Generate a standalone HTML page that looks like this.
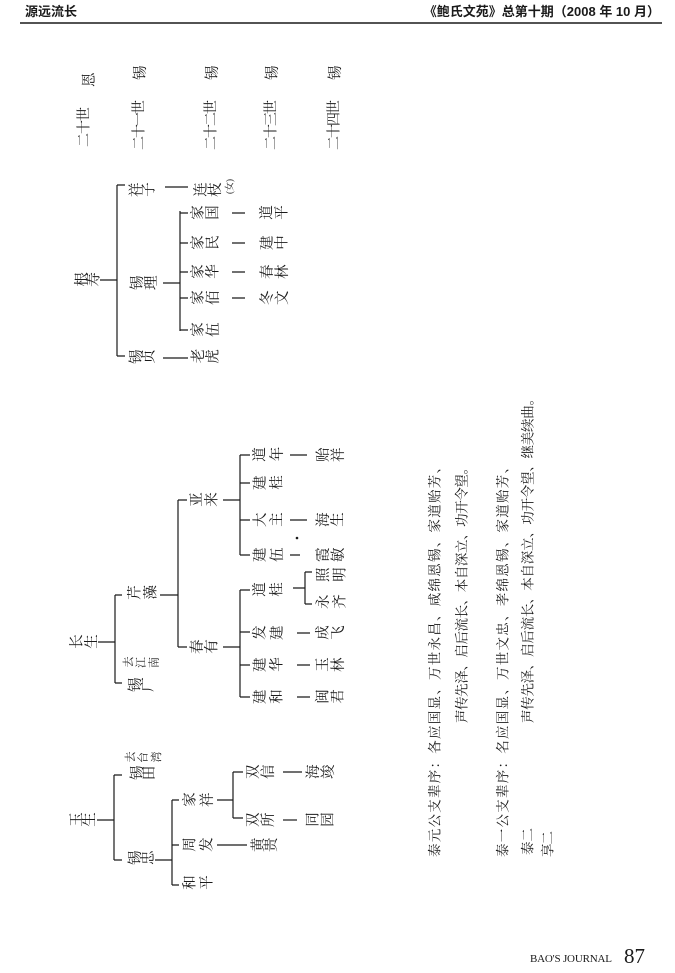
<!DOCTYPE html>
<html><head><meta charset="utf-8">
<style>
html,body{margin:0;padding:0;background:#fff;}
svg{display:block;}
text{font-family:"Liberation Serif","Noto Serif CJK SC","Noto Sans CJK SC",serif;fill:#1a1a1a;}
.n{font-size:14.5px;text-anchor:middle;dominant-baseline:central;transform-box:fill-box;transform-origin:center;transform:rotate(-90deg);}
.s{font-size:11px;text-anchor:middle;dominant-baseline:central;transform-box:fill-box;transform-origin:center;transform:rotate(-90deg);}
.b{font-size:13.5px;dominant-baseline:central;}
.h{font-family:"Liberation Sans","Noto Sans CJK SC",sans-serif;font-size:13px;font-weight:bold;}
path{stroke:#1a1a1a;stroke-width:1.2;fill:none;}
</style></head><body>
<svg width="675" height="973" viewBox="0 0 675 973" xmlns="http://www.w3.org/2000/svg">
<rect width="675" height="973" fill="#fff"/>
<!-- header -->
<text class="h" x="25" y="16">源远流长</text>
<text class="h" x="660" y="16" text-anchor="end">《鲍氏文苑》总第十期（2008 年 10 月）</text>
<path d="M20,23 H662" style="stroke-width:1.6"/>
<!-- footer -->
<text x="530" y="962" textLength="82" style="font-size:11px;font-variant:small-caps">BAO'S JOURNAL</text>
<text x="624" y="963" style="font-size:21px">87</text>

<!-- generation header -->
<text class="b" transform="translate(85,147) rotate(-90)" textLength="40" style="font-size:14px">二十世</text>
<text class="n" x="89" y="80">恩</text>
<text class="b" transform="translate(140,150) rotate(-90)" textLength="50" style="font-size:14px">二十一世</text>
<text class="n" x="140" y="73">锡</text>
<text class="b" transform="translate(212,150) rotate(-90)" textLength="50" style="font-size:14px">二十二世</text>
<text class="n" x="212" y="73">锡</text>
<text class="b" transform="translate(272,150) rotate(-90)" textLength="50" style="font-size:14px">二十三世</text>
<text class="n" x="272" y="73">锡</text>
<text class="b" transform="translate(335,150) rotate(-90)" textLength="50" style="font-size:14px">二十四世</text>
<text class="n" x="335" y="73">锡</text>

<!-- tree 1 -->
<text class="n" x="81" y="280">根</text><text class="n" x="94" y="280">寿</text>
<path d="M100,280 H117 M117,185 V356 M117,185 H125 M117,356 H125"/>
<text class="n" x="136" y="190">祥</text><text class="n" x="149" y="190">子</text>
<path d="M165,187 H188"/>
<text class="n" x="201" y="190">连</text><text class="n" x="215" y="190">枝</text>
<text class="s" x="229" y="187" style="font-size:9px">(女)</text>
<text class="n" x="137" y="283">锡</text><text class="n" x="151" y="283">理</text>
<path d="M163,283 H180 M180,211 V331 M180,213 H188 M180,243 H188 M180,272 H188 M180,298 H188 M180,330 H188"/>
<text class="n" x="198" y="213">家</text><text class="n" x="213" y="213">国</text>
<text class="n" x="198" y="243">家</text><text class="n" x="213" y="243">民</text>
<text class="n" x="198" y="272">家</text><text class="n" x="213" y="272">华</text>
<text class="n" x="198" y="298">家</text><text class="n" x="213" y="298">佰</text>
<text class="n" x="198" y="330">家</text><text class="n" x="213" y="330">伍</text>
<path d="M232,213 H245 M232,243 H245 M232,272 H245 M232,298 H245"/>
<text class="n" x="267" y="213">道</text><text class="n" x="282" y="213">平</text>
<text class="n" x="267" y="243">建</text><text class="n" x="282" y="243">中</text>
<text class="n" x="267" y="272">春</text><text class="n" x="282" y="272">林</text>
<text class="n" x="267" y="298">冬</text><text class="n" x="282" y="298">文</text>
<text class="n" x="136" y="357">锡</text><text class="n" x="149" y="357">贞</text>
<path d="M163,358 H188"/>
<text class="n" x="198" y="357">老</text><text class="n" x="213" y="357">虎</text>

<!-- tree 2 -->
<text class="n" x="77" y="642">长</text><text class="n" x="92" y="642">生</text>
<path d="M98,642 H115 M115,595 V683 M115,595 H122 M115,683 H122"/>
<text class="n" x="135" y="593">芹</text><text class="n" x="150" y="593">藻</text>
<text class="n" x="135" y="685">锡</text><text class="n" x="148" y="685">广</text>
<text class="s" x="128" y="663">去</text><text class="s" x="141" y="663">江</text><text class="s" x="154" y="663">南</text>
<path d="M160,595 H178 M178,500 V647 M178,500 H187 M178,647 H187"/>
<text class="n" x="197" y="500">亚</text><text class="n" x="212" y="500">来</text>
<text class="n" x="197" y="647">春</text><text class="n" x="212" y="647">有</text>
<path d="M223,500 H240 M240,455 V555 M240,455 H250 M240,483 H250 M240,520 H250 M240,555 H250"/>
<text class="n" x="260" y="455">道</text><text class="n" x="277" y="455">年</text>
<text class="n" x="260" y="483">建</text><text class="n" x="277" y="483">桂</text>
<text class="n" x="260" y="520">大</text><text class="n" x="277" y="520">主</text>
<text class="n" x="260" y="555">建</text><text class="n" x="277" y="555">伍</text>
<path d="M290,455 H307 M290,520 H307 M290,555 H300"/>
<circle cx="297" cy="538" r="1.3" fill="#1a1a1a"/>
<text class="n" x="323" y="455">贻</text><text class="n" x="338" y="455">祥</text>
<text class="n" x="323" y="520">海</text><text class="n" x="338" y="520">生</text>
<text class="n" x="323" y="555">霞</text><text class="n" x="338" y="555">敏</text>
<path d="M223,647 H240 M240,590 V697 M240,590 H250 M240,632 H250 M240,665 H250 M240,697 H250"/>
<text class="n" x="260" y="590">道</text><text class="n" x="277" y="590">桂</text>
<text class="n" x="260" y="633">发</text><text class="n" x="277" y="633">建</text>
<text class="n" x="260" y="665">建</text><text class="n" x="277" y="665">华</text>
<text class="n" x="260" y="697">建</text><text class="n" x="277" y="697">和</text>
<path d="M293,588 H305 M305,572 V604 M305,572 H312 M305,604 H312"/>
<text class="n" x="323" y="575">照</text><text class="n" x="340" y="575">明</text>
<text class="n" x="323" y="602">永</text><text class="n" x="340" y="602">齐</text>
<path d="M297,633 H310 M297,665 H310 M297,697 H310"/>
<text class="n" x="323" y="633">成</text><text class="n" x="338" y="633">飞</text>
<text class="n" x="323" y="665">玉</text><text class="n" x="338" y="665">林</text>
<text class="n" x="323" y="697">闽</text><text class="n" x="338" y="697">君</text>

<!-- tree 3 -->
<text class="n" x="77" y="820">玉</text><text class="n" x="90" y="820">生</text>
<path d="M97,820 H114 M114,775 V860 M114,775 H122 M114,860 H122"/>
<text class="n" x="137" y="773">锡</text><text class="n" x="150" y="773">田</text>
<text class="s" x="130" y="758">去</text><text class="s" x="143" y="758">台</text><text class="s" x="156" y="758">湾</text>
<text class="n" x="135" y="858">锡</text><text class="n" x="148" y="858">忠</text>
<path d="M155,860 H172 M172,800 V885 M172,800 H179 M172,845 H179 M172,885 H179"/>
<text class="n" x="190" y="800">家</text><text class="n" x="207" y="800">祥</text>
<text class="n" x="190" y="845">周</text><text class="n" x="207" y="845">发</text>
<text class="n" x="190" y="883">和</text><text class="n" x="207" y="883">平</text>
<path d="M217,800 H233 M233,772 V818 M233,772 H243 M233,818 H243"/>
<text class="n" x="253" y="772">双</text><text class="n" x="268" y="772">信</text>
<path d="M283,772 H302"/>
<text class="n" x="313" y="772">海</text><text class="n" x="328" y="772">竣</text>
<text class="n" x="253" y="820">双</text><text class="n" x="268" y="820">所</text>
<path d="M283,820 H297"/>
<text class="n" x="313" y="820">同</text><text class="n" x="328" y="820">园</text>
<path d="M217,845 H247"/>
<text class="n" x="257" y="845">黄</text><text class="n" x="270" y="845">贵</text>

<!-- generation poems -->
<text class="b" transform="translate(435,857) rotate(-90)" textLength="397">泰元公支辈序：各应国显、万世永昌、咸绵恩锡、家道贻芳、</text>
<text class="b" transform="translate(462,723) rotate(-90)" textLength="262">声传先泽、启后流长、本自深立、功开令望。</text>
<text class="b" transform="translate(503,857) rotate(-90)" textLength="397">泰一公支辈序：名应国显、万世文忠、孝绵恩锡、家道贻芳、</text>
<text class="b" transform="translate(528,855) rotate(-90)" textLength="27">泰二</text>
<text class="b" transform="translate(528,723) rotate(-90)" textLength="331">声传先泽、启后流长、本自深立、功开令望、继美续曲。</text>
<text class="b" transform="translate(548,857) rotate(-90)" textLength="26">享二</text>
</svg>
</body></html>
